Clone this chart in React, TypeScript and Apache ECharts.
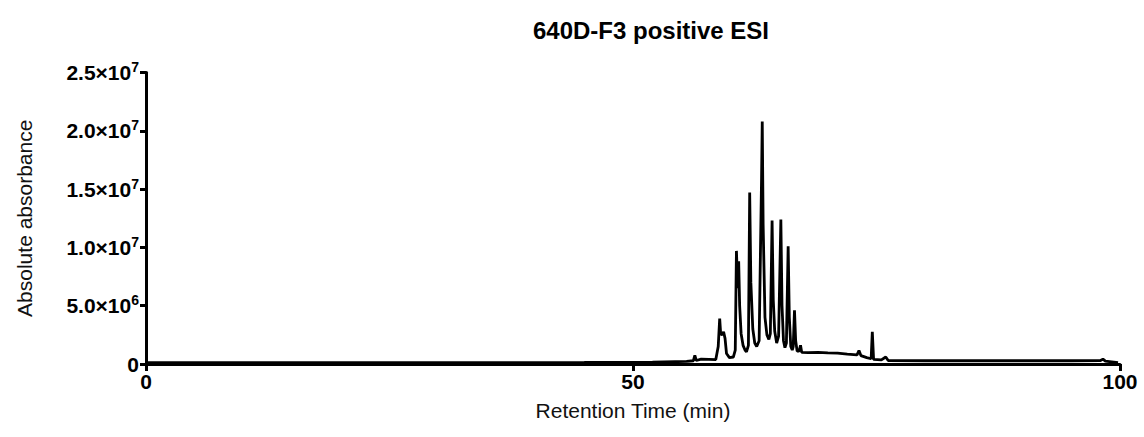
import React, { useEffect, useRef } from "react";
import * as echarts from "echarts";

// Retention time (min) and absolute absorbance (×10^6) of the chromatogram trace
const retentionTime: number[] = [
  0, 5, 15, 25, 35, 45, 52, 55.5, 56.2, 56.35, 56.5, 57.0, 57.8, 58.5,
  58.75, 58.9, 59.0, 59.15, 59.3, 59.45, 59.6, 59.9, 60.3,
  60.5, 60.62, 60.75, 60.85, 60.95, 61.1, 61.3, 61.5, 61.65,
  61.85, 61.98, 62.1, 62.3, 62.5, 62.7,
  62.95, 63.2, 63.27, 63.36, 63.55, 63.75, 63.95,
  64.1, 64.28, 64.4, 64.55, 64.75,
  64.95, 65.18, 65.3, 65.45, 65.6,
  65.75, 65.93, 66.05, 66.2, 66.35,
  66.45, 66.58, 66.7, 66.85, 67.05, 67.2, 67.32,
  68, 69, 70, 71, 72, 73.0, 73.2, 73.4, 74.0, 74.45, 74.57, 74.7,
  75.5, 75.95, 76.2, 80, 85, 90, 95, 98.0, 98.25, 98.5, 99.8,
];

const absorbance: number[] = [
  0.12, 0.12, 0.11, 0.12, 0.12, 0.13, 0.15, 0.22, 0.28, 0.75, 0.3, 0.42, 0.4, 0.38,
  1.5, 3.9, 2.6, 2.5, 2.75, 2.2, 0.9, 0.55, 0.6,
  1.2, 9.7, 6.5, 8.8, 5.0, 2.6, 1.6, 1.2, 1.05,
  1.6, 14.7, 7.0, 3.0, 1.8, 1.5,
  2.0, 16.0, 20.8, 12.0, 4.0, 2.5, 2.1,
  2.6, 12.3, 5.5, 2.8, 1.8,
  2.4, 12.4, 5.0, 2.0, 1.4,
  1.8, 10.1, 4.0, 1.5, 1.2,
  1.5, 4.6, 2.0, 1.1, 1.1, 1.6, 1.0,
  0.98, 1.0, 0.95, 0.93, 0.85, 0.78, 1.15, 0.72, 0.55, 0.45, 2.77, 0.4,
  0.35, 0.6, 0.3, 0.28, 0.28, 0.28, 0.28, 0.3, 0.42, 0.25, 0.12,
];

const xTicks: number[] = [0, 50, 100];
const yTicks: number[] = [0, 5e6, 1e7, 1.5e7, 2e7, 2.5e7];

const titleText = "640D-F3 positive ESI";
const xName = "Retention Time (min)";
const yName = "Absolute absorbance";

function sciLabel(v: number): string {
  if (v === 0) return "0";
  const exp = Math.floor(Math.log10(v) + 1e-9);
  const mant = v / Math.pow(10, exp);
  return `{b|${mant.toFixed(1)}×10}{s|${exp}}`;
}

export default function App() {
  const ref = useRef<HTMLDivElement>(null);

  useEffect(() => {
    if (!ref.current) return;
    const chart = echarts.init(ref.current, null, { renderer: "svg" });
    const seriesData = retentionTime.map((t, i) => [t, absorbance[i] * 1e6]);
    const font = "'Liberation Sans', Arial, Helvetica, sans-serif";

    chart.setOption({
      animation: false,
      backgroundColor: "#ffffff",
      textStyle: { fontFamily: font },
      graphic: [
        {
          type: "text",
          x: 651,
          y: 30,
          style: {
            text: titleText,
            fontFamily: font,
            fontSize: 24,
            fontWeight: "bold",
            fill: "#000",
            textAlign: "center",
            textVerticalAlign: "middle",
          },
        },
      ],
      grid: { left: 146, right: 24, top: 72.5, bottom: 73, containLabel: false },
      xAxis: {
        type: "value",
        min: xTicks[0],
        max: xTicks[xTicks.length - 1],
        interval: 50,
        name: xName,
        nameLocation: "middle",
        nameGap: 36,
        nameTextStyle: { fontSize: 21, color: "#111", fontFamily: font },
        axisLine: { show: true, onZero: false, lineStyle: { color: "#000", width: 3 } },
        axisTick: { show: true, length: 7, inside: false, lineStyle: { color: "#000", width: 3 } },
        axisLabel: {
          fontSize: 21,
          fontWeight: "bold",
          color: "#000",
          margin: 7,
          fontFamily: font,
        },
        splitLine: { show: false },
      },
      yAxis: {
        type: "value",
        min: yTicks[0],
        max: yTicks[yTicks.length - 1],
        interval: 5e6,
        name: yName,
        nameLocation: "middle",
        nameRotate: 90,
        nameGap: 111,
        nameTextStyle: { fontSize: 21, color: "#111", fontFamily: font },
        axisLine: { show: true, lineStyle: { color: "#000", width: 3 } },
        axisTick: { show: true, length: 6, inside: false, lineStyle: { color: "#000", width: 3 } },
        axisLabel: {
          color: "#000",
          margin: 7,
          fontSize: 21,
          fontWeight: "bold",
          fontFamily: font,
          formatter: (v: number) => sciLabel(v),
          rich: {
            b: { fontSize: 21, fontWeight: "bold", color: "#000", fontFamily: font },
            s: {
              fontSize: 14,
              fontWeight: "bold",
              color: "#000",
              fontFamily: font,
              verticalAlign: "bottom",
              padding: [0, 0, 11, 0],
            },
          },
        },
        splitLine: { show: false },
      },
      series: [
        {
          type: "line",
          data: seriesData,
          showSymbol: false,
          symbol: "none",
          lineStyle: { color: "#000", width: 2.8 },
          z: 3,
        },
      ],
    });

    return () => chart.dispose();
  }, []);

  return (
    <div
      ref={ref}
      style={{ position: "fixed", left: 0, top: 0, width: 1144, height: 437 }}
    />
  );
}
